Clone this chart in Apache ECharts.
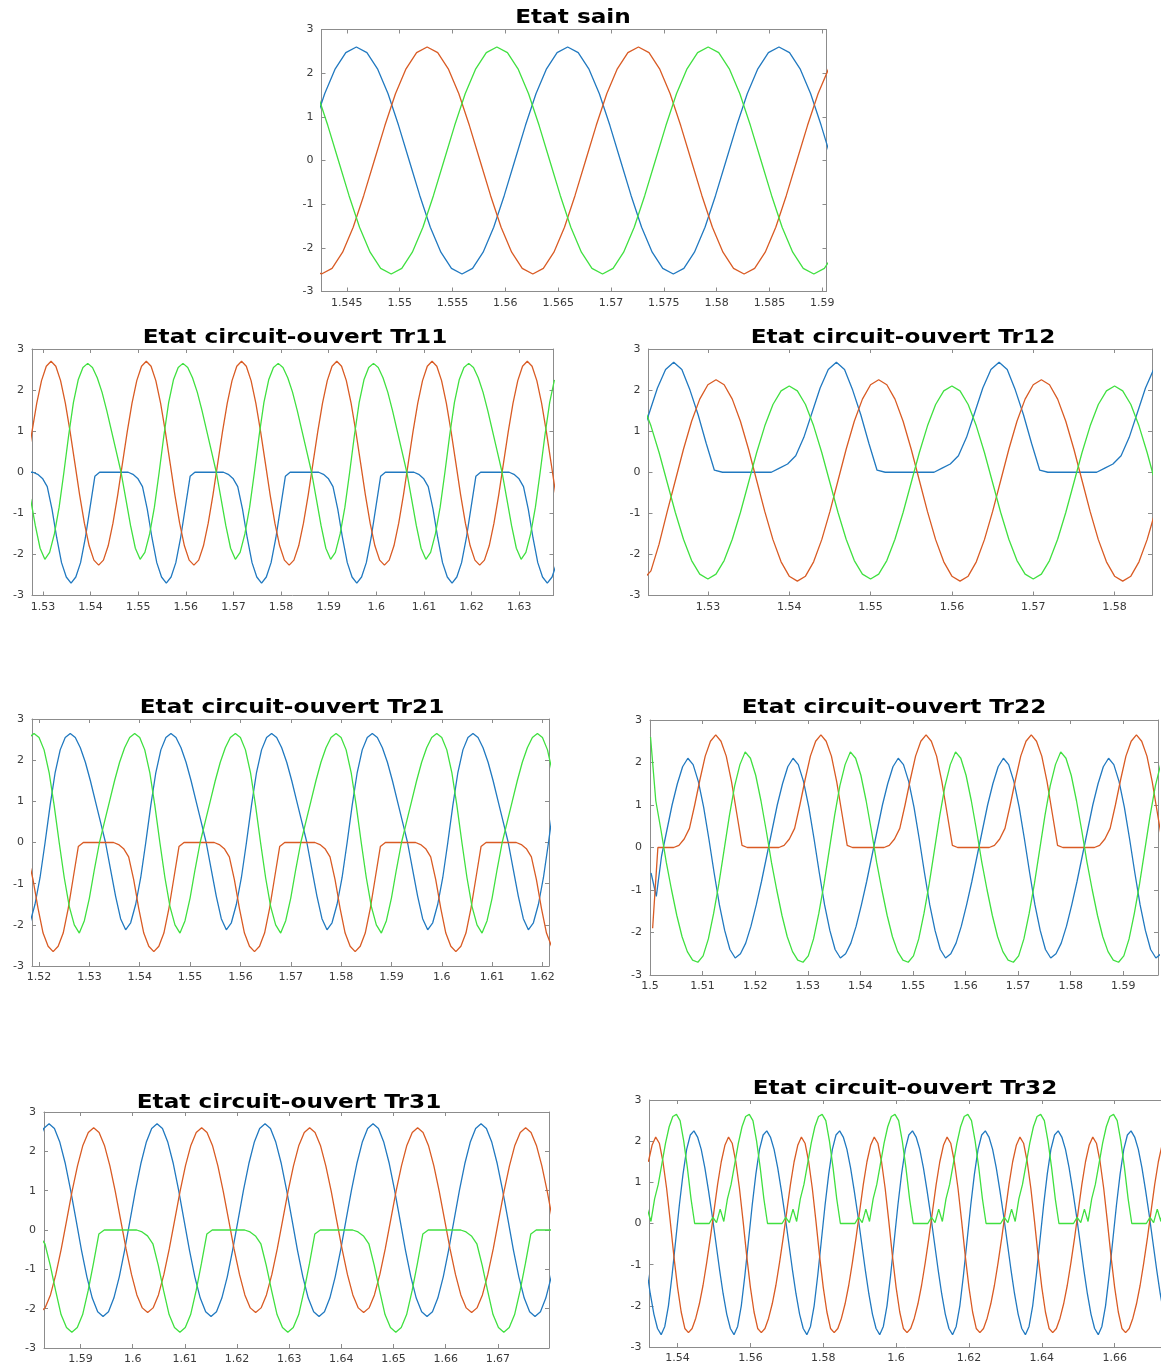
<!DOCTYPE html>
<html><head><meta charset="utf-8">
<script src="https://cdn.jsdelivr.net/npm/echarts@6/dist/echarts.min.js"></script>
<style>html,body{margin:0;padding:0;background:#fff;}#c{width:1161px;height:1364px;}</style>
</head><body><div id="c"></div>
<script>
// sample step (s) shared by most series
const STEP = 0.001;

// ---------- Etat sain ----------
const sainRange = [1.5426, 1.5904];
const sainTicks = [1.545, 1.55, 1.555, 1.56, 1.565, 1.57, 1.575, 1.58, 1.585, 1.59];
const sainStart = [1.5419, 1.5416, 1.5412]; // blue, orange, green
const sainBlue = [0.8,1.53,2.1,2.47,
2.6,2.47,2.1,1.53,0.8,0,-0.8,-1.53,-2.1,-2.47,-2.6,-2.47,-2.1,-1.53,-0.8,0,0.8,1.53,2.1,2.47,
2.6,2.47,2.1,1.53,0.8,0,-0.8,-1.53,-2.1,-2.47,-2.6,-2.47,-2.1,-1.53,-0.8,0,0.8,1.53,2.1,2.47,
2.6,2.47,2.1,1.53,0.8,0];
const sainOrange = [-2.47,-2.6,-2.47,-2.1,-1.53,-0.8,0,0.8,1.53,2.1,2.47,
2.6,2.47,2.1,1.53,0.8,0,-0.8,-1.53,-2.1,-2.47,-2.6,-2.47,-2.1,-1.53,-0.8,0,0.8,1.53,2.1,2.47,
2.6,2.47,2.1,1.53,0.8,0,-0.8,-1.53,-2.1,-2.47,-2.6,-2.47,-2.1,-1.53,-0.8,0,0.8,1.53,2.1];
const sainGreen = [2.1,1.53,0.8,0,-0.8,-1.53,-2.1,-2.47,-2.6,-2.47,-2.1,-1.53,-0.8,0,0.8,1.53,2.1,2.47,
2.6,2.47,2.1,1.53,0.8,0,-0.8,-1.53,-2.1,-2.47,-2.6,-2.47,-2.1,-1.53,-0.8,0,0.8,1.53,2.1,2.47,
2.6,2.47,2.1,1.53,0.8,0,-0.8,-1.53,-2.1,-2.47,-2.6,-2.47,-2.1];

// ---------- Tr11 ----------
const tr11Range = [1.5277, 1.6372];
const tr11Ticks = [1.53, 1.54, 1.55, 1.56, 1.57, 1.58, 1.59, 1.6, 1.61, 1.62, 1.63];
const tr11Start = [1.5269, 1.5267, 1.5274];
const tr11Blue = [0,0,-0.05,-0.15,-0.35,-0.9,-1.6,-2.2,-2.55,
-2.7,-2.55,-2.2,-1.6,-0.85,-0.1,0,0,0,0,0,0,0,-0.05,-0.15,-0.35,-0.9,-1.6,-2.2,-2.55,
-2.7,-2.55,-2.2,-1.6,-0.85,-0.1,0,0,0,0,0,0,0,-0.05,-0.15,-0.35,-0.9,-1.6,-2.2,-2.55,
-2.7,-2.55,-2.2,-1.6,-0.85,-0.1,0,0,0,0,0,0,0,-0.05,-0.15,-0.35,-0.9,-1.6,-2.2,-2.55,
-2.7,-2.55,-2.2,-1.6,-0.85,-0.1,0,0,0,0,0,0,0,-0.05,-0.15,-0.35,-0.9,-1.6,-2.2,-2.55,
-2.7,-2.55,-2.2,-1.6,-0.85,-0.1,0,0,0,0,0,0,0,-0.05,-0.15,-0.35,-0.9,-1.6,-2.2,-2.55,
-2.7,-2.55,-2.2];
const tr11Orange = [0.22,0.99,1.68,2.23,2.58,
2.7,2.58,2.23,1.68,0.99,0.22,-0.55,-1.24,-1.79,-2.14,-2.26,-2.14,-1.79,-1.24,-0.55,0.22,0.99,1.68,2.23,2.58,
2.7,2.58,2.23,1.68,0.99,0.22,-0.55,-1.24,-1.79,-2.14,-2.26,-2.14,-1.79,-1.24,-0.55,0.22,0.99,1.68,2.23,2.58,
2.7,2.58,2.23,1.68,0.99,0.22,-0.55,-1.24,-1.79,-2.14,-2.26,-2.14,-1.79,-1.24,-0.55,0.22,0.99,1.68,2.23,2.58,
2.7,2.58,2.23,1.68,0.99,0.22,-0.55,-1.24,-1.79,-2.14,-2.26,-2.14,-1.79,-1.24,-0.55,0.22,0.99,1.68,2.23,2.58,
2.7,2.58,2.23,1.68,0.99,0.22,-0.55,-1.24,-1.79,-2.14,-2.26,-2.14,-1.79,-1.24,-0.55,0.22,0.99,1.68,2.23,2.58,
2.7,2.58,2.23,1.68,0.99,0.22,-0.55];
const tr11Green = [-0.65,-1.3,-1.85,
-2.12,-1.95,-1.5,-0.85,0,0.9,1.7,2.25,2.55,2.65,2.55,2.3,1.95,1.5,1,0.5,0,-0.65,-1.3,-1.85,
-2.12,-1.95,-1.5,-0.85,0,0.9,1.7,2.25,2.55,2.65,2.55,2.3,1.95,1.5,1,0.5,0,-0.65,-1.3,-1.85,
-2.12,-1.95,-1.5,-0.85,0,0.9,1.7,2.25,2.55,2.65,2.55,2.3,1.95,1.5,1,0.5,0,-0.65,-1.3,-1.85,
-2.12,-1.95,-1.5,-0.85,0,0.9,1.7,2.25,2.55,2.65,2.55,2.3,1.95,1.5,1,0.5,0,-0.65,-1.3,-1.85,
-2.12,-1.95,-1.5,-0.85,0,0.9,1.7,2.25,2.55,2.65,2.55,2.3,1.95,1.5,1,0.5,0,-0.65,-1.3,-1.85,
-2.12,-1.95,-1.5,-0.85,0,0.9,1.7,2.25];

// ---------- Tr12 ----------
const tr12Range = [1.5227, 1.5846];
const tr12Ticks = [1.53, 1.54, 1.55, 1.56, 1.57, 1.58];
const tr12Start = [1.5218, 1.5220, 1.5220];
const tr12Blue = [0.85,1.45,2.05,2.5,
2.68,2.5,2,1.4,0.7,0.05,0,0,0,0,0,0,0,0.1,0.2,0.4,0.85,1.45,2.05,2.5,
2.68,2.5,2,1.4,0.7,0.05,0,0,0,0,0,0,0,0.1,0.2,0.4,0.85,1.45,2.05,2.5,
2.68,2.5,2,1.4,0.7,0.05,0,0,0,0,0,0,0,0.1,0.2,0.4,0.85,1.45,2.05,2.5];
const tr12Orange = [-2.62,-2.4,-1.75,-0.96,-0.2,0.56,1.24,1.78,2.13,
2.25,2.13,1.78,1.24,0.56,-0.2,-0.96,-1.64,-2.18,-2.53,-2.65,-2.53,-2.18,-1.64,-0.96,-0.2,0.56,1.24,1.78,2.13,
2.25,2.13,1.78,1.24,0.56,-0.2,-0.96,-1.64,-2.18,-2.53,-2.65,-2.53,-2.18,-1.64,-0.96,-0.2,0.56,1.24,1.78,2.13,
2.25,2.13,1.78,1.24,0.56,-0.2,-0.96,-1.64,-2.18,-2.53,-2.65,-2.53,-2.18,-1.64,-0.96];
const tr12Green = [1.65,1.13,0.48,-0.25,-0.98,-1.63,-2.15,-2.48,-2.6,-2.48,-2.15,-1.63,-0.98,-0.25,0.48,1.13,1.65,1.98,
2.1,1.98,1.65,1.13,0.48,-0.25,-0.98,-1.63,-2.15,-2.48,-2.6,-2.48,-2.15,-1.63,-0.98,-0.25,0.48,1.13,1.65,1.98,
2.1,1.98,1.65,1.13,0.48,-0.25,-0.98,-1.63,-2.15,-2.48,-2.6,-2.48,-2.15,-1.63,-0.98,-0.25,0.48,1.13,1.65,1.98,
2.1,1.98,1.65,1.13,0.48,-0.25];

// ---------- Tr21 ----------
const tr21Range = [1.5186, 1.6213];
const tr21Ticks = [1.52, 1.53, 1.54, 1.55, 1.56, 1.57, 1.58, 1.59, 1.6, 1.61, 1.62];
const tr21Start = [1.5172, 1.5178, 1.5180];
const tr21Blue = [
-2.12,-1.95,-1.5,-0.85,0,0.9,1.7,2.25,2.55,2.65,2.55,2.3,1.95,1.5,1,0.5,0,-0.65,-1.3,-1.85,
-2.12,-1.95,-1.5,-0.85,0,0.9,1.7,2.25,2.55,2.65,2.55,2.3,1.95,1.5,1,0.5,0,-0.65,-1.3,-1.85,
-2.12,-1.95,-1.5,-0.85,0,0.9,1.7,2.25,2.55,2.65,2.55,2.3,1.95,1.5,1,0.5,0,-0.65,-1.3,-1.85,
-2.12,-1.95,-1.5,-0.85,0,0.9,1.7,2.25,2.55,2.65,2.55,2.3,1.95,1.5,1,0.5,0,-0.65,-1.3,-1.85,
-2.12,-1.95,-1.5,-0.85,0,0.9,1.7,2.25,2.55,2.65,2.55,2.3,1.95,1.5,1,0.5,0,-0.65,-1.3,-1.85,
-2.12,-1.95,-1.5,-0.85,0,0.9];
const tr21Orange = [-0.35,-0.9,-1.6,-2.2,-2.52,
-2.65,-2.52,-2.2,-1.6,-0.85,-0.1,0,0,0,0,0,0,0,-0.05,-0.15,-0.35,-0.9,-1.6,-2.2,-2.52,
-2.65,-2.52,-2.2,-1.6,-0.85,-0.1,0,0,0,0,0,0,0,-0.05,-0.15,-0.35,-0.9,-1.6,-2.2,-2.52,
-2.65,-2.52,-2.2,-1.6,-0.85,-0.1,0,0,0,0,0,0,0,-0.05,-0.15,-0.35,-0.9,-1.6,-2.2,-2.52,
-2.65,-2.52,-2.2,-1.6,-0.85,-0.1,0,0,0,0,0,0,0,-0.05,-0.15,-0.35,-0.9,-1.6,-2.2,-2.52,
-2.65,-2.52,-2.2,-1.6,-0.85,-0.1,0,0,0,0,0,0,0,-0.05,-0.15,-0.35,-0.9,-1.6,-2.2,-2.52];
const tr21Green = [2.55,2.65,2.55,2.25,1.7,0.9,0,-0.85,-1.55,-2,
-2.2,-1.9,-1.35,-0.65,0,0.5,1,1.5,1.95,2.3,2.55,2.65,2.55,2.25,1.7,0.9,0,-0.85,-1.55,-2,
-2.2,-1.9,-1.35,-0.65,0,0.5,1,1.5,1.95,2.3,2.55,2.65,2.55,2.25,1.7,0.9,0,-0.85,-1.55,-2,
-2.2,-1.9,-1.35,-0.65,0,0.5,1,1.5,1.95,2.3,2.55,2.65,2.55,2.25,1.7,0.9,0,-0.85,-1.55,-2,
-2.2,-1.9,-1.35,-0.65,0,0.5,1,1.5,1.95,2.3,2.55,2.65,2.55,2.25,1.7,0.9,0,-0.85,-1.55,-2,
-2.2,-1.9,-1.35,-0.65,0,0.5,1,1.5,1.95,2.3,2.55,2.65,2.55,2.25,1.7];

// ---------- Tr22 ----------
const tr22Range = [1.5, 1.5966];
const tr22Ticks = [1.5, 1.51, 1.52, 1.53, 1.54, 1.55, 1.56, 1.57, 1.58, 1.59];
const tr22Start = [1.5002, 1.5005, 1.5001];
const tr22Blue = [-0.6,-1.15,-0.2,0.4,1,1.5,1.9,
2.1,1.95,1.55,0.95,0.2,-0.6,-1.35,-1.95,-2.4,-2.6,-2.5,-2.25,-1.85,-1.35,-0.8,-0.2,0.4,1,1.5,1.9,
2.1,1.95,1.55,0.95,0.2,-0.6,-1.35,-1.95,-2.4,-2.6,-2.5,-2.25,-1.85,-1.35,-0.8,-0.2,0.4,1,1.5,1.9,
2.1,1.95,1.55,0.95,0.2,-0.6,-1.35,-1.95,-2.4,-2.6,-2.5,-2.25,-1.85,-1.35,-0.8,-0.2,0.4,1,1.5,1.9,
2.1,1.95,1.55,0.95,0.2,-0.6,-1.35,-1.95,-2.4,-2.6,-2.5,-2.25,-1.85,-1.35,-0.8,-0.2,0.4,1,1.5,1.9,
2.1,1.95,1.55,0.95,0.2,-0.6,-1.35,-1.95,-2.4,-2.6,-2.5,-2.25];
const tr22Orange = [-1.9,0,0,0,0,0.05,0.2,0.45,1,1.6,2.15,2.5,
2.65,2.5,2.15,1.55,0.8,0.05,0,0,0,0,0,0,0,0.05,0.2,0.45,1,1.6,2.15,2.5,
2.65,2.5,2.15,1.55,0.8,0.05,0,0,0,0,0,0,0,0.05,0.2,0.45,1,1.6,2.15,2.5,
2.65,2.5,2.15,1.55,0.8,0.05,0,0,0,0,0,0,0,0.05,0.2,0.45,1,1.6,2.15,2.5,
2.65,2.5,2.15,1.55,0.8,0.05,0,0,0,0,0,0,0,0.05,0.2,0.45,1,1.6,2.15,2.5,
2.65,2.5,2.15,1.55,0.8,0.05,0];
const tr22Green = [2.6,1.1,0.4,-0.35,-1,-1.6,-2.1,-2.45,-2.65,-2.7,-2.55,-2.15,-1.55,-0.85,-0.05,0.75,1.45,1.95,
2.25,2.1,1.7,1.1,0.4,-0.35,-1,-1.6,-2.1,-2.45,-2.65,-2.7,-2.55,-2.15,-1.55,-0.85,-0.05,0.75,1.45,1.95,
2.25,2.1,1.7,1.1,0.4,-0.35,-1,-1.6,-2.1,-2.45,-2.65,-2.7,-2.55,-2.15,-1.55,-0.85,-0.05,0.75,1.45,1.95,
2.25,2.1,1.7,1.1,0.4,-0.35,-1,-1.6,-2.1,-2.45,-2.65,-2.7,-2.55,-2.15,-1.55,-0.85,-0.05,0.75,1.45,1.95,
2.25,2.1,1.7,1.1,0.4,-0.35,-1,-1.6,-2.1,-2.45,-2.65,-2.7,-2.55,-2.15,-1.55,-0.85,-0.05,0.75,1.45,1.95,
2.25,2.1];

const tr31Range = [1.583, 1.6798];
const tr31Ticks = [1.59, 1.6, 1.61, 1.62, 1.63, 1.64, 1.65, 1.66, 1.67];
const tr31Step = 0.001035;
const tr31Start = [1.5819, 1.5801, 1.5811];
const tr31Blue = [2.23,2.58,
2.7,2.58,2.23,1.69,1.01,0.25,-0.51,-1.19,-1.73,-2.08,-2.2,-2.08,-1.73,-1.19,-0.51,0.25,1.01,1.69,2.23,2.58,
2.7,2.58,2.23,1.69,1.01,0.25,-0.51,-1.19,-1.73,-2.08,-2.2,-2.08,-1.73,-1.19,-0.51,0.25,1.01,1.69,2.23,2.58,
2.7,2.58,2.23,1.69,1.01,0.25,-0.51,-1.19,-1.73,-2.08,-2.2,-2.08,-1.73,-1.19,-0.51,0.25,1.01,1.69,2.23,2.58,
2.7,2.58,2.23,1.69,1.01,0.25,-0.51,-1.19,-1.73,-2.08,-2.2,-2.08,-1.73,-1.19,-0.51,0.25,1.01,1.69,2.23,2.58,
2.7,2.58,2.23,1.69,1.01,0.25,-0.51,-1.19,-1.73,-2.08,-2.2,-2.08,-1.73,-1.19,-0.51,0.25];
const tr31Orange = [-1.65,-1.98,-2.1,-1.98,-1.65,-1.13,-0.48,0.25,0.98,1.63,2.15,2.48,
2.6,2.48,2.15,1.63,0.98,0.25,-0.48,-1.13,-1.65,-1.98,-2.1,-1.98,-1.65,-1.13,-0.48,0.25,0.98,1.63,2.15,2.48,
2.6,2.48,2.15,1.63,0.98,0.25,-0.48,-1.13,-1.65,-1.98,-2.1,-1.98,-1.65,-1.13,-0.48,0.25,0.98,1.63,2.15,2.48,
2.6,2.48,2.15,1.63,0.98,0.25,-0.48,-1.13,-1.65,-1.98,-2.1,-1.98,-1.65,-1.13,-0.48,0.25,0.98,1.63,2.15,2.48,
2.6,2.48,2.15,1.63,0.98,0.25,-0.48,-1.13,-1.65,-1.98,-2.1,-1.98,-1.65,-1.13,-0.48,0.25,0.98,1.63,2.15,2.48,
2.6,2.48,2.15,1.63,0.98,0.25,-0.48];
const tr31Green = [-0.05,-0.15,-0.35,-0.9,-1.55,-2.15,-2.48,
-2.6,-2.48,-2.15,-1.55,-0.85,-0.1,0,0,0,0,0,0,0,-0.05,-0.15,-0.35,-0.9,-1.55,-2.15,-2.48,
-2.6,-2.48,-2.15,-1.55,-0.85,-0.1,0,0,0,0,0,0,0,-0.05,-0.15,-0.35,-0.9,-1.55,-2.15,-2.48,
-2.6,-2.48,-2.15,-1.55,-0.85,-0.1,0,0,0,0,0,0,0,-0.05,-0.15,-0.35,-0.9,-1.55,-2.15,-2.48,
-2.6,-2.48,-2.15,-1.55,-0.85,-0.1,0,0,0,0,0,0,0,-0.05,-0.15,-0.35,-0.9,-1.55,-2.15,-2.48,
-2.6,-2.48,-2.15,-1.55,-0.85,-0.1,0,0,0,0,0,0];

// ---------- Tr32 ----------
const tr32Range = [1.5323, 1.68];
const tr32Ticks = [1.54, 1.56, 1.58, 1.6, 1.62, 1.64, 1.66];
const tr32Start = [1.5315, 1.5320, 1.5317];
const tr32Blue = [-1.1,-1.7,-2.2,-2.55,
-2.7,-2.5,-2,-1.25,-0.4,0.45,1.2,1.8,2.15,2.25,2.1,1.8,1.35,0.8,0.2,-0.45,-1.1,-1.7,-2.2,-2.55,
-2.7,-2.5,-2,-1.25,-0.4,0.45,1.2,1.8,2.15,2.25,2.1,1.8,1.35,0.8,0.2,-0.45,-1.1,-1.7,-2.2,-2.55,
-2.7,-2.5,-2,-1.25,-0.4,0.45,1.2,1.8,2.15,2.25,2.1,1.8,1.35,0.8,0.2,-0.45,-1.1,-1.7,-2.2,-2.55,
-2.7,-2.5,-2,-1.25,-0.4,0.45,1.2,1.8,2.15,2.25,2.1,1.8,1.35,0.8,0.2,-0.45,-1.1,-1.7,-2.2,-2.55,
-2.7,-2.5,-2,-1.25,-0.4,0.45,1.2,1.8,2.15,2.25,2.1,1.8,1.35,0.8,0.2,-0.45,-1.1,-1.7,-2.2,-2.55,
-2.7,-2.5,-2,-1.25,-0.4,0.45,1.2,1.8,2.15,2.25,2.1,1.8,1.35,0.8,0.2,-0.45,-1.1,-1.7,-2.2,-2.55,
-2.7,-2.5,-2,-1.25,-0.4,0.45,1.2,1.8,2.15,2.25,2.1,1.8,1.35,0.8,0.2,-0.45,-1.1,-1.7,-2.2,-2.55,
-2.7,-2.5,-2,-1.25,-0.4,0.45];
const tr32Orange = [1.5,1.9,
2.1,1.95,1.5,0.85,0.05,-0.8,-1.55,-2.15,-2.55,-2.65,-2.55,-2.3,-1.95,-1.5,-0.95,-0.35,0.3,0.95,1.5,1.9,
2.1,1.95,1.5,0.85,0.05,-0.8,-1.55,-2.15,-2.55,-2.65,-2.55,-2.3,-1.95,-1.5,-0.95,-0.35,0.3,0.95,1.5,1.9,
2.1,1.95,1.5,0.85,0.05,-0.8,-1.55,-2.15,-2.55,-2.65,-2.55,-2.3,-1.95,-1.5,-0.95,-0.35,0.3,0.95,1.5,1.9,
2.1,1.95,1.5,0.85,0.05,-0.8,-1.55,-2.15,-2.55,-2.65,-2.55,-2.3,-1.95,-1.5,-0.95,-0.35,0.3,0.95,1.5,1.9,
2.1,1.95,1.5,0.85,0.05,-0.8,-1.55,-2.15,-2.55,-2.65,-2.55,-2.3,-1.95,-1.5,-0.95,-0.35,0.3,0.95,1.5,1.9,
2.1,1.95,1.5,0.85,0.05,-0.8,-1.55,-2.15,-2.55,-2.65,-2.55,-2.3,-1.95,-1.5,-0.95,-0.35,0.3,0.95,1.5,1.9,
2.1,1.95,1.5,0.85,0.05,-0.8,-1.55,-2.15,-2.55,-2.65,-2.55,-2.3,-1.95,-1.5,-0.95,-0.35,0.3,0.95,1.5,1.9,
2.1,1.95,1.5,0.85,0.05,-0.8,-1.55,-2.15];
const tr32Green = [0.35,0.05,0.6,0.95,1.45,1.95,2.35,2.6,
2.65,2.5,2,1.35,0.6,0,0,0,0,0,0.15,0.02,0.35,0.05,0.6,0.95,1.45,1.95,2.35,2.6,
2.65,2.5,2,1.35,0.6,0,0,0,0,0,0.15,0.02,0.35,0.05,0.6,0.95,1.45,1.95,2.35,2.6,
2.65,2.5,2,1.35,0.6,0,0,0,0,0,0.15,0.02,0.35,0.05,0.6,0.95,1.45,1.95,2.35,2.6,
2.65,2.5,2,1.35,0.6,0,0,0,0,0,0.15,0.02,0.35,0.05,0.6,0.95,1.45,1.95,2.35,2.6,
2.65,2.5,2,1.35,0.6,0,0,0,0,0,0.15,0.02,0.35,0.05,0.6,0.95,1.45,1.95,2.35,2.6,
2.65,2.5,2,1.35,0.6,0,0,0,0,0,0.15,0.02,0.35,0.05,0.6,0.95,1.45,1.95,2.35,2.6,
2.65,2.5,2,1.35,0.6,0,0,0,0,0,0.15,0.02,0.35,0.05,0.6,0.95,1.45,1.95,2.35,2.6,
2.65,2.5];

const yTicks = [-3, -2, -1, 0, 1, 2, 3];

// ---------- layout (pixels) ----------
const panels = [
  { title: 'Etat sain', range: sainRange, ticks: sainTicks, start: sainStart, step: STEP, data: [sainBlue, sainOrange, sainGreen],
    box: [321.5, 29.5, 505, 262], titleAt: [573, 18] },
  { title: 'Etat circuit-ouvert Tr11', range: tr11Range, ticks: tr11Ticks, start: tr11Start, step: STEP, data: [tr11Blue, tr11Orange, tr11Green],
    box: [32, 349, 521.5, 246.5], titleAt: [295, 338] },
  { title: 'Etat circuit-ouvert Tr12', range: tr12Range, ticks: tr12Ticks, start: tr12Start, step: STEP, data: [tr12Blue, tr12Orange, tr12Green],
    box: [648.5, 349, 503.5, 246.5], titleAt: [903, 338.5] },
  { title: 'Etat circuit-ouvert Tr21', range: tr21Range, ticks: tr21Ticks, start: tr21Start, step: STEP, data: [tr21Blue, tr21Orange, tr21Green],
    box: [32, 719, 517, 247], titleAt: [292, 708.5] },
  { title: 'Etat circuit-ouvert Tr22', range: tr22Range, ticks: tr22Ticks, start: tr22Start, step: STEP, data: [tr22Blue, tr22Orange, tr22Green],
    box: [650, 720, 508, 255], titleAt: [894, 708.5] },
  { title: 'Etat circuit-ouvert Tr31', range: tr31Range, ticks: tr31Ticks, start: tr31Start, step: tr31Step, data: [tr31Blue, tr31Orange, tr31Green],
    box: [44, 1112, 505, 236], titleAt: [289, 1103] },
  { title: 'Etat circuit-ouvert Tr32', range: tr32Range, ticks: tr32Ticks, start: tr32Start, step: STEP, data: [tr32Blue, tr32Orange, tr32Green],
    box: [649.5, 1100, 538, 247], titleAt: [905, 1089.5] }
];

const COLORS = ['#2179c0', '#d95b24', '#40e040'];
const AXIS_COLOR = '#8c8c8c';
const LABEL = { color: '#3a3a3a', fontFamily: 'DejaVu Sans', fontSize: 11 };

const grid = [], xAxis = [], yAxis = [], series = [], graphic = [];
panels.forEach((p, i) => {
  grid.push({ left: p.box[0], top: p.box[1], width: p.box[2], height: p.box[3], show: false,
    outerBoundsMode: 'none', containLabel: false });
  const xBase = {
    type: 'value', gridIndex: i, min: p.range[0], max: p.range[1],
    splitLine: { show: false },
    axisLine: { show: true, onZero: false, lineStyle: { color: AXIS_COLOR, width: 1 } },
    axisTick: { show: true, inside: true, length: 4, customValues: p.ticks, lineStyle: { color: AXIS_COLOR } }
  };
  xAxis.push(Object.assign({}, xBase, { position: 'bottom',
    axisLabel: Object.assign({ show: true, margin: 6, customValues: p.ticks, formatter: v => String(+(+v).toFixed(4)) }, LABEL) }));
  xAxis.push(Object.assign({}, xBase, { position: 'top', axisLabel: { show: false } }));
  const yBase = {
    type: 'value', gridIndex: i, min: -3, max: 3, interval: 1,
    splitLine: { show: false },
    axisLine: { show: true, onZero: false, lineStyle: { color: AXIS_COLOR, width: 1 } },
    axisTick: { show: true, inside: true, length: 4, lineStyle: { color: AXIS_COLOR } }
  };
  yAxis.push(Object.assign({}, yBase, { position: 'left',
    axisLabel: Object.assign({ show: true, margin: 8, customValues: yTicks }, LABEL) }));
  yAxis.push(Object.assign({}, yBase, { position: 'right', axisLabel: { show: false } }));

  p.data.forEach((vals, k) => {
    const t0 = p.start[k];
    series.push({
      type: 'line', xAxisIndex: 2 * i, yAxisIndex: 2 * i,
      data: vals.map((v, j) => [+(t0 + j * p.step).toFixed(5), v]),
      showSymbol: false, symbol: 'none', clip: true, silent: true,
      lineStyle: { color: COLORS[k], width: 1.3 },
      z: 2 + k
    });
  });

  graphic.push({
    type: 'text', x: p.titleAt[0], y: p.titleAt[1], scaleX: 1.22, silent: true,
    style: { text: p.title, fill: '#000', fontFamily: 'DejaVu Sans', fontWeight: 'bold', fontSize: 19,
      textAlign: 'center', textVerticalAlign: 'middle', align: 'center', verticalAlign: 'middle' }
  });
});

const chart = echarts.init(document.getElementById('c'), null, { renderer: 'canvas' });
chart.setOption({ animation: false, backgroundColor: '#fff', grid, xAxis, yAxis, series, graphic });
</script>
</body></html>
